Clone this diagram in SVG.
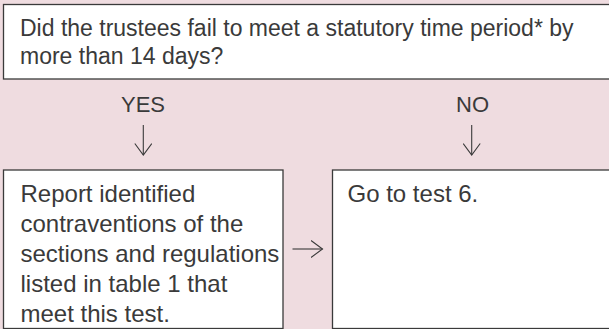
<svg xmlns="http://www.w3.org/2000/svg" width="609" height="329" viewBox="0 0 609 329">
  <defs>
    <style>
      .bg { fill: #efdce0; }
      .box { fill: #ffffff; stroke: #3a3a3a; stroke-width: 1.3; }
      .txt { font-family: "Liberation Sans", Arial, sans-serif; fill: #3a3a3a; font-size: 23px; }
      .big { font-size: 24px; }
      .lbl { font-family: "Liberation Sans", Arial, sans-serif; fill: #3a3a3a; font-size: 22px; text-anchor: middle; }
      .conn { fill: none; stroke: #3a3a3a; stroke-width: 1.1; }
    </style>
    <marker id="open" viewBox="0 0 13 18" refX="12" refY="9" markerWidth="13" markerHeight="18" markerUnits="userSpaceOnUse" orient="auto">
      <path d="M0.5,0.5 L12,9 L0.5,17.5" fill="none" stroke="#3a3a3a" stroke-width="1.1"/>
    </marker>
  </defs>
  <rect class="bg" x="0" y="0" width="609" height="329"/>

  <g id="question">
    <rect class="box" x="3.5" y="4.5" width="620" height="74.5"/>
    <text class="txt" x="20" y="36">Did the trustees fail to meet a statutory time period* by</text>
    <text class="txt" x="20" y="63.5">more than 14 days?</text>
  </g>

  <g id="label-yes">
    <text class="lbl" x="143" y="112">YES</text>
  </g>
  <g id="label-no">
    <text class="lbl" x="472.5" y="112">NO</text>
  </g>

  <g id="report">
    <rect class="box" x="3.5" y="170" width="279.5" height="158.5"/>
    <text class="txt big" x="20.5" y="201.5">Report identified</text>
    <text class="txt big" x="20.5" y="231.5">contraventions of the</text>
    <text class="txt big" x="20.5" y="261.5">sections and regulations</text>
    <text class="txt big" x="20.5" y="291.5">listed in table 1 that</text>
    <text class="txt big" x="20.5" y="321.5">meet this test.</text>
  </g>

  <g id="goto6">
    <rect class="box" x="332.5" y="170" width="290" height="158.5"/>
    <text class="txt big" x="347.5" y="201.5">Go to test 6.</text>
  </g>

  <g id="connectors">
    <path class="conn" d="M143.3,125 L143.3,155" marker-end="url(#open)"/>
    <path class="conn" d="M471.7,125 L471.7,155" marker-end="url(#open)"/>
    <path class="conn" d="M292.5,249 L322.5,249" marker-end="url(#open)"/>
  </g>
</svg>
